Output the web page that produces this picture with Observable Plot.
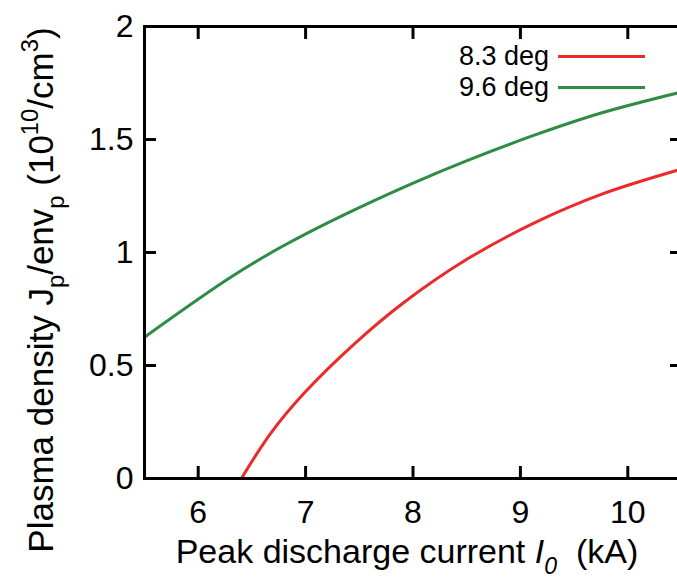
<!DOCTYPE html>
<html><head><meta charset="utf-8">
<script src="https://cdn.jsdelivr.net/npm/d3@7"></script>
<script src="https://cdn.jsdelivr.net/npm/@observablehq/plot@0.6"></script>
<style>
html,body{margin:0;padding:0;background:#fff;overflow:hidden}
#wrap{position:relative;width:677px;height:579px;font-family:"Liberation Sans",Arial,Helvetica,sans-serif}
#legend{position:absolute;left:0;top:0;width:677px;height:100px;pointer-events:none}
.lg-row{position:absolute;left:0;height:30px}
.lg-text{position:absolute;right:128px;font-size:27px;color:#000;white-space:nowrap;line-height:30px}
.lg-line{position:absolute;left:558px;width:87px;height:3px;top:13.5px}
</style></head><body><div id="wrap"><div id="legend"></div></div>
<script>
// ---- data ----
const seriesNames = ["8.3 deg", "9.6 deg"];
const seriesColors = ["#ec2a2a", "#2e8c45"];

const redX   = [6.402, 6.675, 6.985, 7.452, 7.918, 8.509, 9.130, 9.752, 10.5];
const redY   = [0.000, 0.200, 0.377, 0.595, 0.780, 0.972, 1.131, 1.257, 1.369];

const greenX = [5.5,   6.302, 6.768, 7.328, 7.980, 8.509, 9.130, 9.752, 10.5];
const greenY = [0.625, 0.890, 1.023, 1.160, 1.303, 1.408, 1.519, 1.617, 1.710];

const xTicks = [6, 7, 8, 9, 10];
const yTicks = [0, 0.5, 1, 1.5, 2];
const xDomain = [5.5, 10.5];
const yDomain = [0, 2];

const xTitle = [{t:"Peak discharge current "}, {t:"I", italic:true}, {t:"0", sub:true, italic:true}, {t:"  (kA)"}];
const yTitle = [{t:"Plasma density J"}, {t:"p", sub:true}, {t:"/env"}, {t:"p", sub:true}, {t:" (10"}, {t:"10", sup:true}, {t:"/cm"}, {t:"3", sup:true}, {t:")"}];

// ---- build table ----
const rows = [
  ...redX.map((x, i) => ({series: seriesNames[0], x, y: redY[i]})),
  ...greenX.map((x, i) => ({series: seriesNames[1], x, y: greenY[i]}))
];

const FONT = '"Liberation Sans", Arial, Helvetica, sans-serif';

const chart = Plot.plot({
  width: 677, height: 579,
  marginLeft: 144, marginRight: -4, marginTop: 26, marginBottom: 101,
  style: {fontFamily: FONT, background: "#fff", overflow: "visible", color: "#000"},
  x: {domain: xDomain},
  y: {domain: yDomain},
  color: {domain: seriesNames, range: seriesColors},
  marks: [
    // inward ticks on all four sides
    Plot.axisX(xTicks, {anchor: "bottom", tickSize: -12, strokeWidth: 3, fill: "none", label: null}),
    Plot.axisX(xTicks, {anchor: "top", tickSize: -12, strokeWidth: 3, fill: "none", label: null}),
    Plot.axisY(yTicks, {anchor: "left", tickSize: -12, strokeWidth: 3, fill: "none", label: null}),
    Plot.axisY(yTicks, {anchor: "right", tickSize: -12, strokeWidth: 3, fill: "none", label: null}),
    // tick labels
    Plot.axisX(xTicks, {anchor: "bottom", tickSize: 0, tickPadding: 22, fontSize: 32, label: null, tickFormat: d => String(d)}),
    Plot.axisY(yTicks, {anchor: "left", tickSize: 0, tickPadding: 11, fontSize: 32, label: null, tickFormat: d => String(d)}),
    Plot.line(rows, {x: "x", y: "y", z: "series", stroke: "series", strokeWidth: 3, curve: "catmull-rom"}),
    Plot.frame({strokeWidth: 3})
  ]
});

document.getElementById("wrap").appendChild(chart);

// ---- axis titles with sub/superscripts ----
function rich(sel, parts, fs) {
  let shift = 0;
  parts.forEach(p => {
    const target = p.sub ? fs * 0.32 : p.sup ? -fs * 0.42 : 0;
    const ts = sel.append("tspan").text(p.t)
      .attr("dy", target - shift)
      .attr("font-size", (p.sub || p.sup) ? fs * 0.68 : fs);
    if (p.italic) ts.attr("font-style", "italic");
    shift = target;
  });
}
const svg = d3.select(chart);
const xt = svg.append("text")
  .attr("x", 407).attr("y", 563)
  .attr("text-anchor", "middle")
  .attr("font-family", FONT).attr("fill", "#000")
  .style("white-space", "pre");
rich(xt, xTitle, 34);

const yt = svg.append("text")
  .attr("transform", "translate(53,290) rotate(-90)")
  .attr("text-anchor", "middle")
  .attr("font-family", FONT).attr("fill", "#000")
  .style("white-space", "pre");
rich(yt, yTitle, 35);

// ---- legend ----
const legend = document.getElementById("legend");
const legendTops = [41, 72];
seriesNames.forEach((name, i) => {
  const row = document.createElement("div");
  row.className = "lg-row";
  row.style.top = legendTops[i] + "px";
  row.style.width = "677px";
  const t = document.createElement("div");
  t.className = "lg-text";
  t.textContent = name;
  const l = document.createElement("div");
  l.className = "lg-line";
  l.style.background = seriesColors[i];
  row.appendChild(t); row.appendChild(l);
  legend.appendChild(row);
});
</script>
</body></html>
